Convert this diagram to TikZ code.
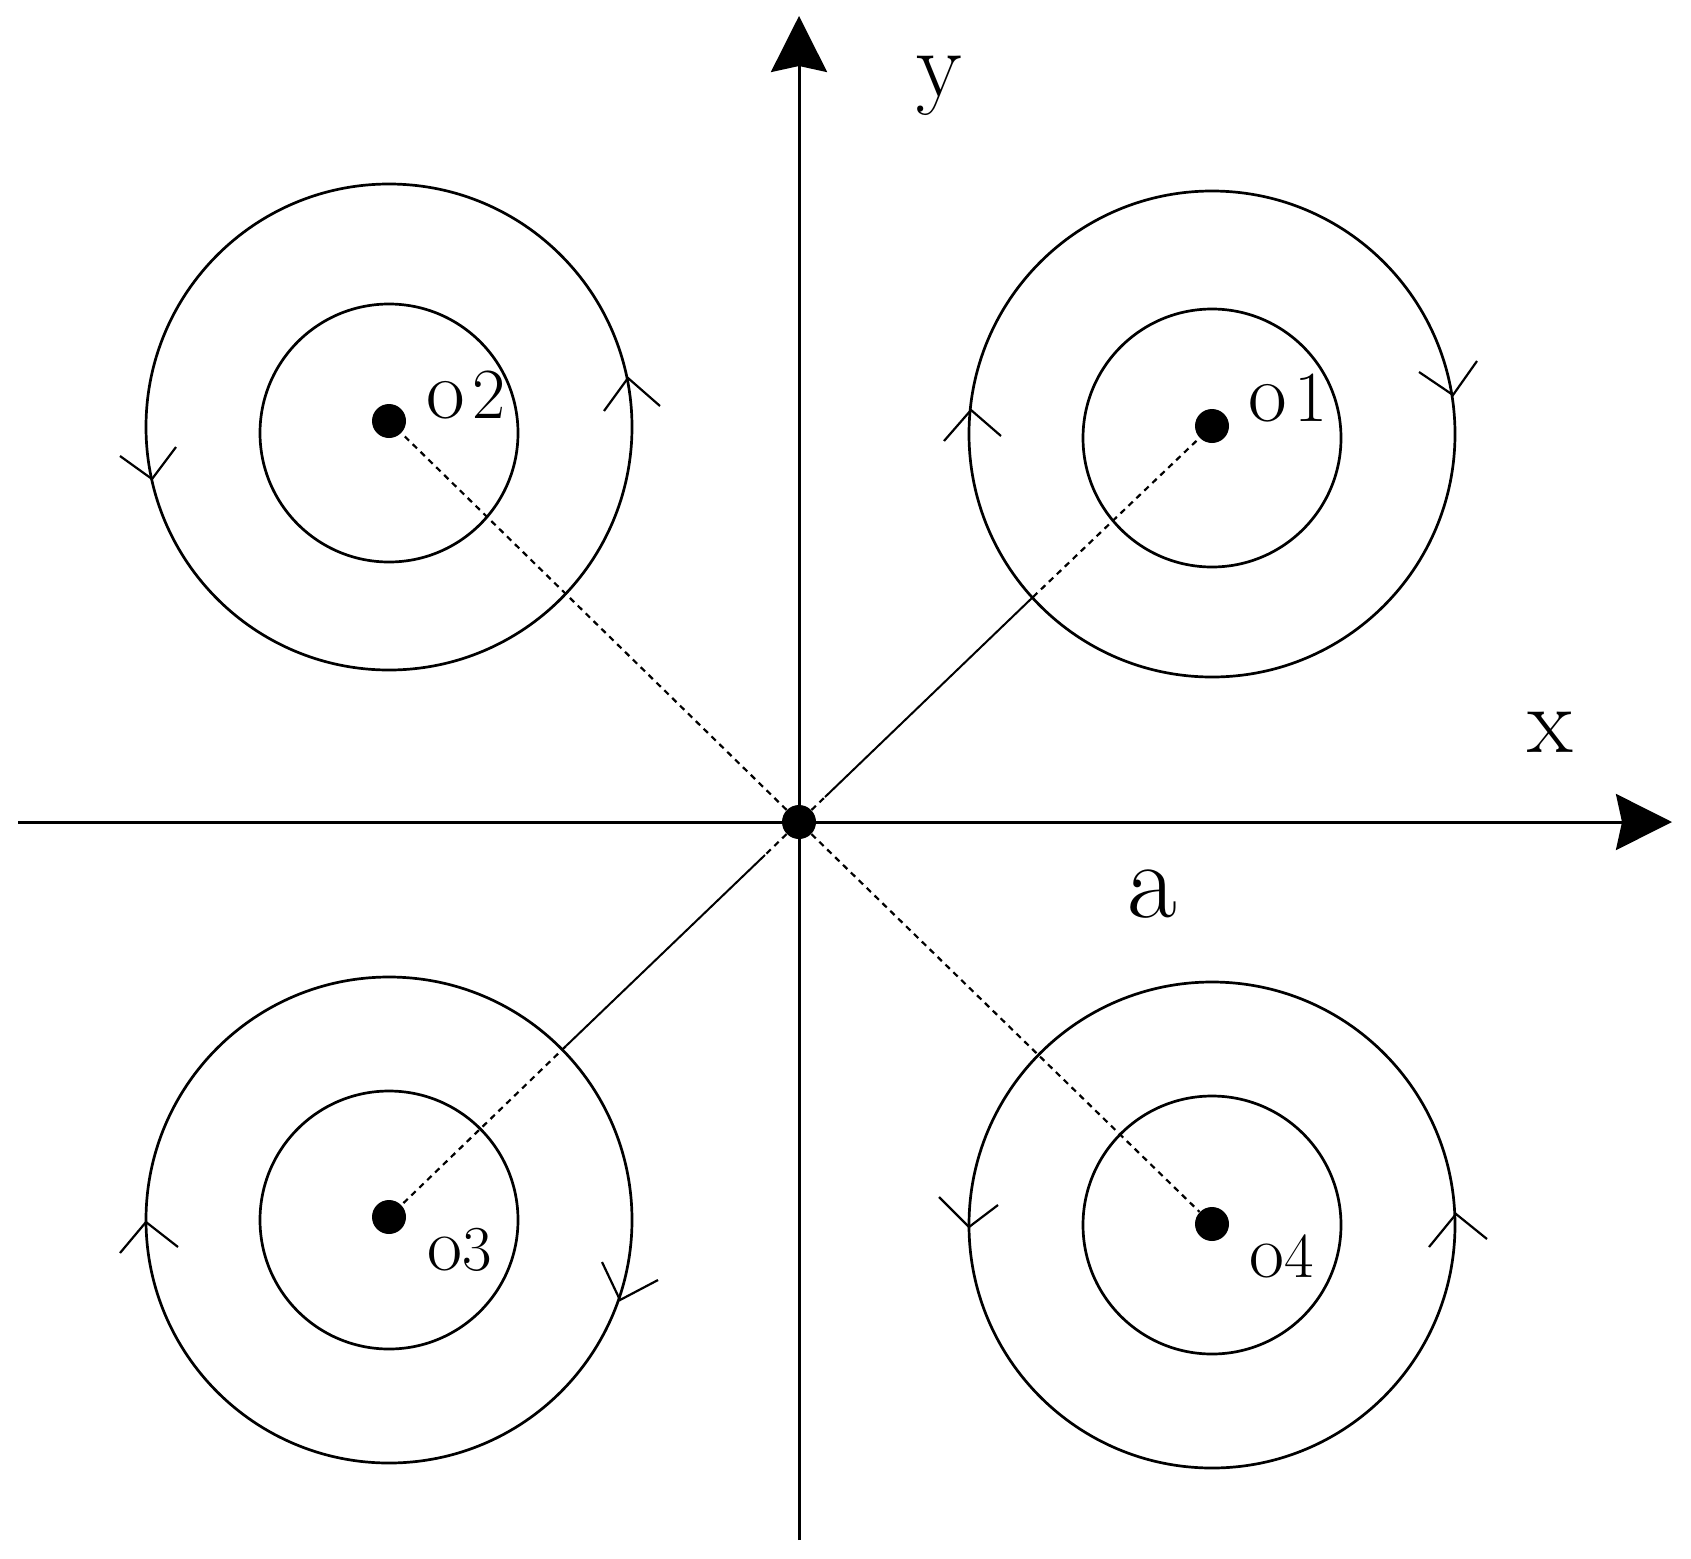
\documentclass[tikz,border=0pt]{standalone}
\usepackage{tikz}
\usetikzlibrary{arrows.meta}
\newcommand{\bigo}[1]{{\fontsize{#1}{#1}\selectfont o}}
\tikzset{
	axis/.style={draw, line width=1.5pt, -{Stealth[length=28pt,width=28pt,inset=3pt]}},
	ring/.style={draw, line width=1.35pt},
	barb/.style={draw, line width=1.1pt},
	dot/.style={circle, fill=black, inner sep=0pt, minimum size=17pt},
	radial/.style={draw, line width=1.1pt, dash pattern=on 3pt off 2.5pt},
	plain/.style={draw, line width=1pt},
	biglabel/.style={anchor=base, inner sep=0pt, font={\fontsize{47pt}{56pt}\selectfont}},
	midlabel/.style={anchor=base, inner sep=0pt, font={\fontsize{36pt}{44pt}\selectfont}},
	smalllabel/.style={anchor=base, inner sep=0pt, font={\fontsize{32pt}{38pt}\selectfont}},
}
\begin{document}
\begin{tikzpicture}[x=.5pt,y=-.5pt]
	\useasboundingbox (0,0) rectangle (1691,1558);
	\coordinate (xl) at (18,822);
	\coordinate (xr) at (1672,822);
	\coordinate (yb) at (799,1540);
	\coordinate (yt) at (799,16);
	\draw[axis] (xl) -- (xr);
	\draw[axis] (yb) -- (yt);
	% rings
	\foreach \cx/\iy/\oy in {1212/438/434,389/433/427,389/1220/1220,1212/1225/1225} {
		\draw[ring] (\cx,\iy) circle (129);
		\draw[ring] (\cx,\oy) circle (243);
	}
	% barbs
	\foreach \ax/\ay/\bx/\by/\tx/\ty in {
		628/378/604/411/660/406,
		152/479/120/456/176/447,
		971/410/944/441/1001/436,
		1453/395/1419/372/1477/361,
		146/1222/120/1253/178/1247,
		620/1300/602/1262/658/1280,
		969/1227/939/1197/998/1205,
		1456/1214/1429/1247/1487/1239}
		\draw[barb] (\bx,\by) -- (\ax,\ay) -- (\tx,\ty);
	\node[dot] (n0) at (799,822) {};
	\node[dot] (n1) at (1212,426) {};
	\node[dot, minimum width=16pt] (n2) at (389,421) {};
	\node[dot, minimum width=16pt] (n3) at (389,1217) {};
	\node[dot] (n4) at (1212,1224) {};
	% the two long radii run solid over their middle part
	\coordinate (m1a) at (825,797);
	\coordinate (m1b) at (1033,597);
	\coordinate (m3a) at (765,855);
	\coordinate (m3b) at (566,1046);
	\foreach \from/\to in {n0/n2,n0/n4,n0/m1a,m1b/n1,n0/m3a,m3b/n3}
		\draw[radial] (\from) -- (\to);
	\foreach \from/\to in {m1a/m1b,m3a/m3b}
		\draw[plain] (\from) -- (\to);
	\node[midlabel] (l1) at (1288,421) {\bigo{42pt}\kern4pt 1};
	\node[midlabel] (l2) at (466,418) {\bigo{42pt}\kern4pt 2};
	\node[smalllabel] (l3) at (460,1270) {\bigo{38pt}3};
	\node[smalllabel] (l4) at (1282,1277) {\bigo{38pt}4};
	\node[biglabel] (lx) at (1550,752) {x};
	\node[biglabel] (ly) at (939,96) {y};
	\node[biglabel, font={\fontsize{54pt}{62pt}\selectfont}] (la) at (1152,917) {a};
\end{tikzpicture}
\end{document}
